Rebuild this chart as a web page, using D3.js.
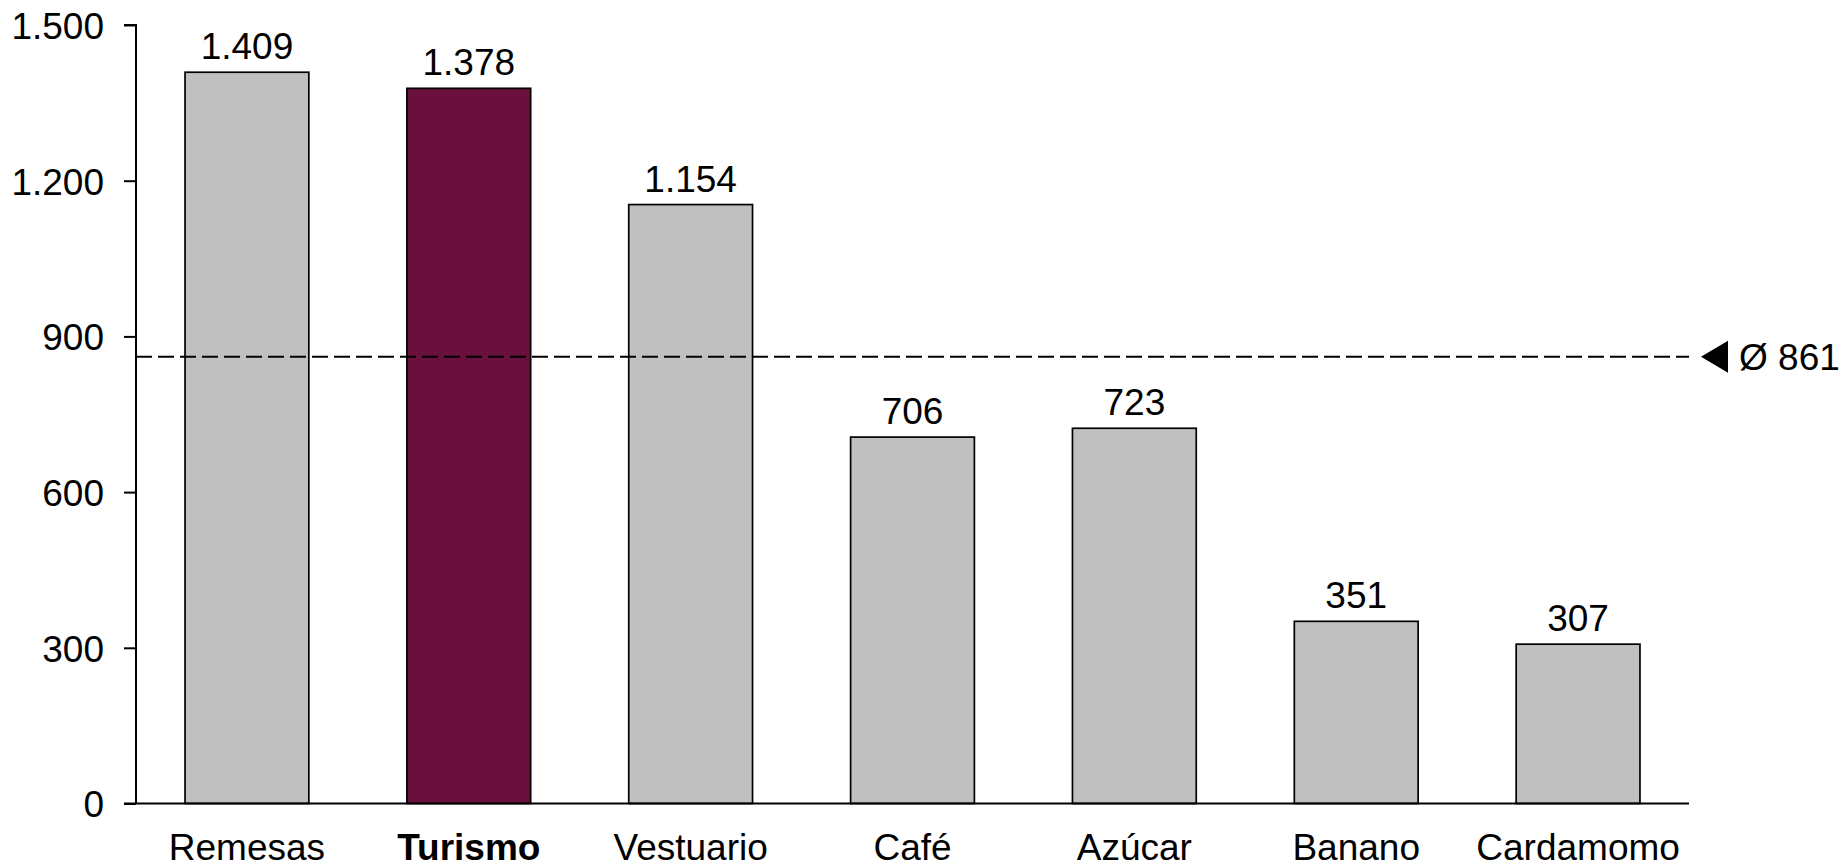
<!DOCTYPE html>
<html>
<head>
<meta charset="utf-8">
<script src="https://cdn.jsdelivr.net/npm/d3@7"></script>
<style>
  html, body { margin: 0; padding: 0; background: #fff; }
  svg { display: block; font-family: "Liberation Sans", Arial, sans-serif; }
</style>
</head>
<body>
<svg id="chart" width="1839" height="868"></svg>
<script>
const categories = ["Remesas", "Turismo", "Vestuario", "Café", "Azúcar", "Banano", "Cardamomo"];
const values = [1409, 1378, 1154, 706, 723, 351, 307];
const highlighted = ["Turismo"];
const yTicks = [0, 300, 600, 900, 1200, 1500];
const average = 861;

(function () {
const data = categories.map((c, i) => ({ cat: c, val: values[i] }));

const svg = d3.select("#chart");
const mLeft = 136, mRight = 1689, mTop = 25, mBottom = 803.5;
const fontSize = 37;

const locale = d3.formatLocale({ decimal: ",", thousands: ".", grouping: [3], currency: ["", ""] });
const fmt = locale.format(",d");

const x = d3.scaleBand().domain(categories).range([mLeft, mRight])
  .paddingInner(0.442).paddingOuter(0.221);
const y = d3.scaleLinear().domain([0, 1500]).range([mBottom, mTop]);

// bars
svg.append("g").selectAll("rect").data(data).join("rect")
  .attr("x", d => x(d.cat))
  .attr("y", d => y(d.val))
  .attr("width", x.bandwidth())
  .attr("height", d => y(0) - y(d.val))
  .attr("fill", d => highlighted.includes(d.cat) ? "#69103d" : "#c0c0c0")
  .attr("stroke", "#000")
  .attr("stroke-width", 1.7);

// value labels
svg.append("g").selectAll("text").data(data).join("text")
  .attr("x", d => x(d.cat) + x.bandwidth() / 2)
  .attr("y", d => y(d.val) - 13)
  .attr("text-anchor", "middle")
  .attr("font-size", fontSize)
  .attr("fill", "#000")
  .text(d => fmt(d.val));

// y axis
const yAxis = d3.axisLeft(y).tickValues(yTicks).tickSize(12).tickPadding(20).tickFormat(fmt);
const gy = svg.append("g").attr("transform", `translate(${mLeft},0)`).call(yAxis);
gy.select(".domain").attr("d", `M-12,${mTop}H0V${mBottom}`).attr("stroke", "#000").attr("stroke-width", 2);
gy.selectAll(".tick line").attr("stroke", "#000").attr("stroke-width", 2);
gy.selectAll(".tick text").attr("font-size", fontSize).attr("font-family", "Liberation Sans, Arial, sans-serif")
  .attr("fill", "#000").attr("dy", "0.36em");

// x axis
const xAxis = d3.axisBottom(x).tickSize(0).tickPadding(30);
const gx = svg.append("g").attr("transform", `translate(0,${mBottom})`).call(xAxis);
gx.select(".domain").attr("d", `M${mLeft - 12},0H${mRight}`).attr("stroke", "#000").attr("stroke-width", 2);
gx.selectAll(".tick text").attr("font-size", fontSize).attr("font-family", "Liberation Sans, Arial, sans-serif")
  .attr("fill", "#000").attr("dy", null).attr("y", 56.5)
  .attr("font-weight", d => highlighted.includes(d) ? "bold" : "normal");

// average line
svg.append("line")
  .attr("x1", mLeft).attr("x2", mRight)
  .attr("y1", y(average)).attr("y2", y(average))
  .attr("stroke", "#000").attr("stroke-width", 2)
  .attr("stroke-dasharray", "16,6");

const ay = y(average);
svg.append("path")
  .attr("d", `M1701,${ay}L1728,${ay - 16}L1728,${ay + 16}Z`)
  .attr("fill", "#000");
svg.append("text")
  .attr("x", 1739).attr("y", ay + 13.5)
  .attr("font-size", fontSize)
  .attr("fill", "#000")
  .text("Ø " + fmt(average));
})();
</script>
</body>
</html>
